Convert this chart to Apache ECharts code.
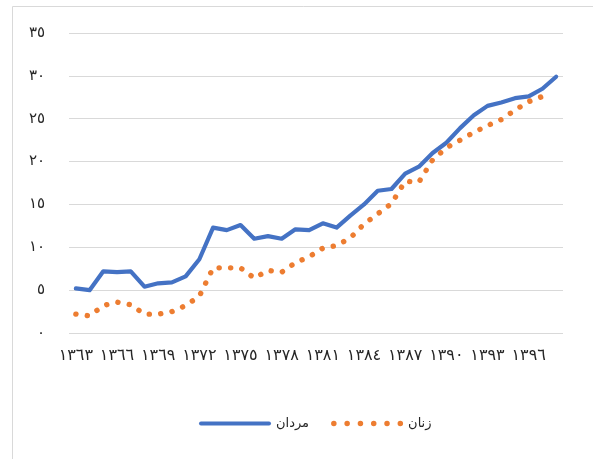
<!DOCTYPE html>
<html lang="fa">
<head>
    <meta charset="UTF-8">
    <title>مردان و زنان</title>
    <style>
        html, body { margin: 0; padding: 0; background: #fff; }
        #main { width: 593px; height: 459px; }
    </style>
    <script src="https://cdn.jsdelivr.net/npm/echarts@6/dist/echarts.min.js"></script>
</head>
<body>
    <div id="main"></div>
    <script type="text/javascript">
        // سال‌ها (۱۳۶۳ تا ۱۳۹۸)
        var years = ['١٣٦٣', '١٣٦٤', '١٣٦٥', '١٣٦٦', '١٣٦٧', '١٣٦٨', '١٣٦٩', '١٣٧٠', '١٣٧١',
            '١٣٧٢', '١٣٧٣', '١٣٧٤', '١٣٧٥', '١٣٧٦', '١٣٧٧', '١٣٧٨', '١٣٧٩', '١٣٨٠',
            '١٣٨١', '١٣٨٢', '١٣٨٣', '١٣٨٤', '١٣٨٥', '١٣٨٦', '١٣٨٧', '١٣٨٨', '١٣٨٩',
            '١٣٩٠', '١٣٩١', '١٣٩٢', '١٣٩٣', '١٣٩٤', '١٣٩٥', '١٣٩٦', '١٣٩٧', '١٣٩٨'];

        var men = [5.2, 5.0, 7.2, 7.1, 7.2, 5.4, 5.8, 5.9, 6.6, 8.6, 12.3, 12.0, 12.6, 11.0,
            11.3, 11.0, 12.1, 12.0, 12.8, 12.3, 13.7, 15.0, 16.6, 16.8, 18.6, 19.4, 21.0,
            22.2, 23.9, 25.4, 26.5, 26.9, 27.4, 27.6, 28.5, 29.9];

        var women = [2.2, 2.0, 3.2, 3.6, 3.3, 2.2, 2.2, 2.5, 3.2, 4.3, 7.6, 7.6, 7.6, 6.4,
            7.3, 7.1, 8.2, 8.9, 9.9, 10.2, 11.1, 12.7, 13.9, 15.1, 17.7, 17.6, 20.2,
            21.6, 22.5, 23.4, 24.2, 24.9, 26.0, 27.0, 27.6, null];

        var yTickLabels = ['٠', '٥', '١٠', '١٥', '٢٠', '٢٥', '٣٠', '٣٥'];

        // legend icons: solid bar and a row of dots
        var barIcon = 'path://M2,0 L70,0 A2,2 0 0 1 70,4 L2,4 A2,2 0 0 1 2,0 Z';
        var dotIcon = 'path://';
        for (var i = 0; i < 6; i++) {
            var cx = 2.7 + i * 13;
            dotIcon += 'M' + (cx - 2.7) + ',2.7 A2.7,2.7 0 1 0 ' + (cx + 2.7) + ',2.7 A2.7,2.7 0 1 0 ' + (cx - 2.7) + ',2.7 Z ';
        }

        var chart = echarts.init(document.getElementById('main'));

        var option = {
            animation: false,
            textStyle: { fontFamily: 'DejaVu Sans' },
            graphic: [{
                type: 'rect',
                left: 10,
                top: 4,
                shape: { width: 620, height: 453 },
                style: { fill: 'none', stroke: '#d9d9d9', lineWidth: 1 },
                silent: true
            }],
            grid: {
                left: 69,
                right: 30,
                top: 33,
                bottom: 126,
                containLabel: false
            },
            legend: {
                left: 194,
                top: 412,
                itemWidth: 72,
                itemHeight: 14,
                itemGap: 22,
                textStyle: { fontSize: 13, color: '#262626' },
                data: [
                    { name: 'مردان', icon: barIcon },
                    { name: 'زنان', icon: dotIcon }
                ]
            },
            xAxis: {
                type: 'category',
                data: years,
                boundaryGap: true,
                axisLine: { show: false },
                axisTick: { show: false },
                axisLabel: {
                    interval: 2,
                    fontSize: 16,
                    color: '#262626',
                    margin: 15
                }
            },
            yAxis: {
                type: 'value',
                min: 0,
                max: 35,
                interval: 5,
                axisLine: { show: false },
                axisTick: { show: false },
                axisLabel: {
                    fontSize: 15,
                    color: '#262626',
                    margin: 24,
                    formatter: function (v) { return yTickLabels[Math.round(v / 5)]; }
                },
                splitLine: { lineStyle: { color: '#d9d9d9', width: 1.2 } }
            },
            series: [{
                name: 'مردان',
                type: 'line',
                data: men,
                symbol: 'none',
                itemStyle: { color: '#4472c4' },
                lineStyle: { color: '#4472c4', width: 4.2, cap: 'round', join: 'round' }
            }, {
                name: 'زنان',
                type: 'line',
                data: women,
                symbol: 'none',
                itemStyle: { color: '#ed7d31' },
                lineStyle: { color: '#ed7d31', width: 5.4, type: [0.1, 11.4], cap: 'round', join: 'round' }
            }]
        };

        chart.setOption(option);
    </script>
</body>
</html>
